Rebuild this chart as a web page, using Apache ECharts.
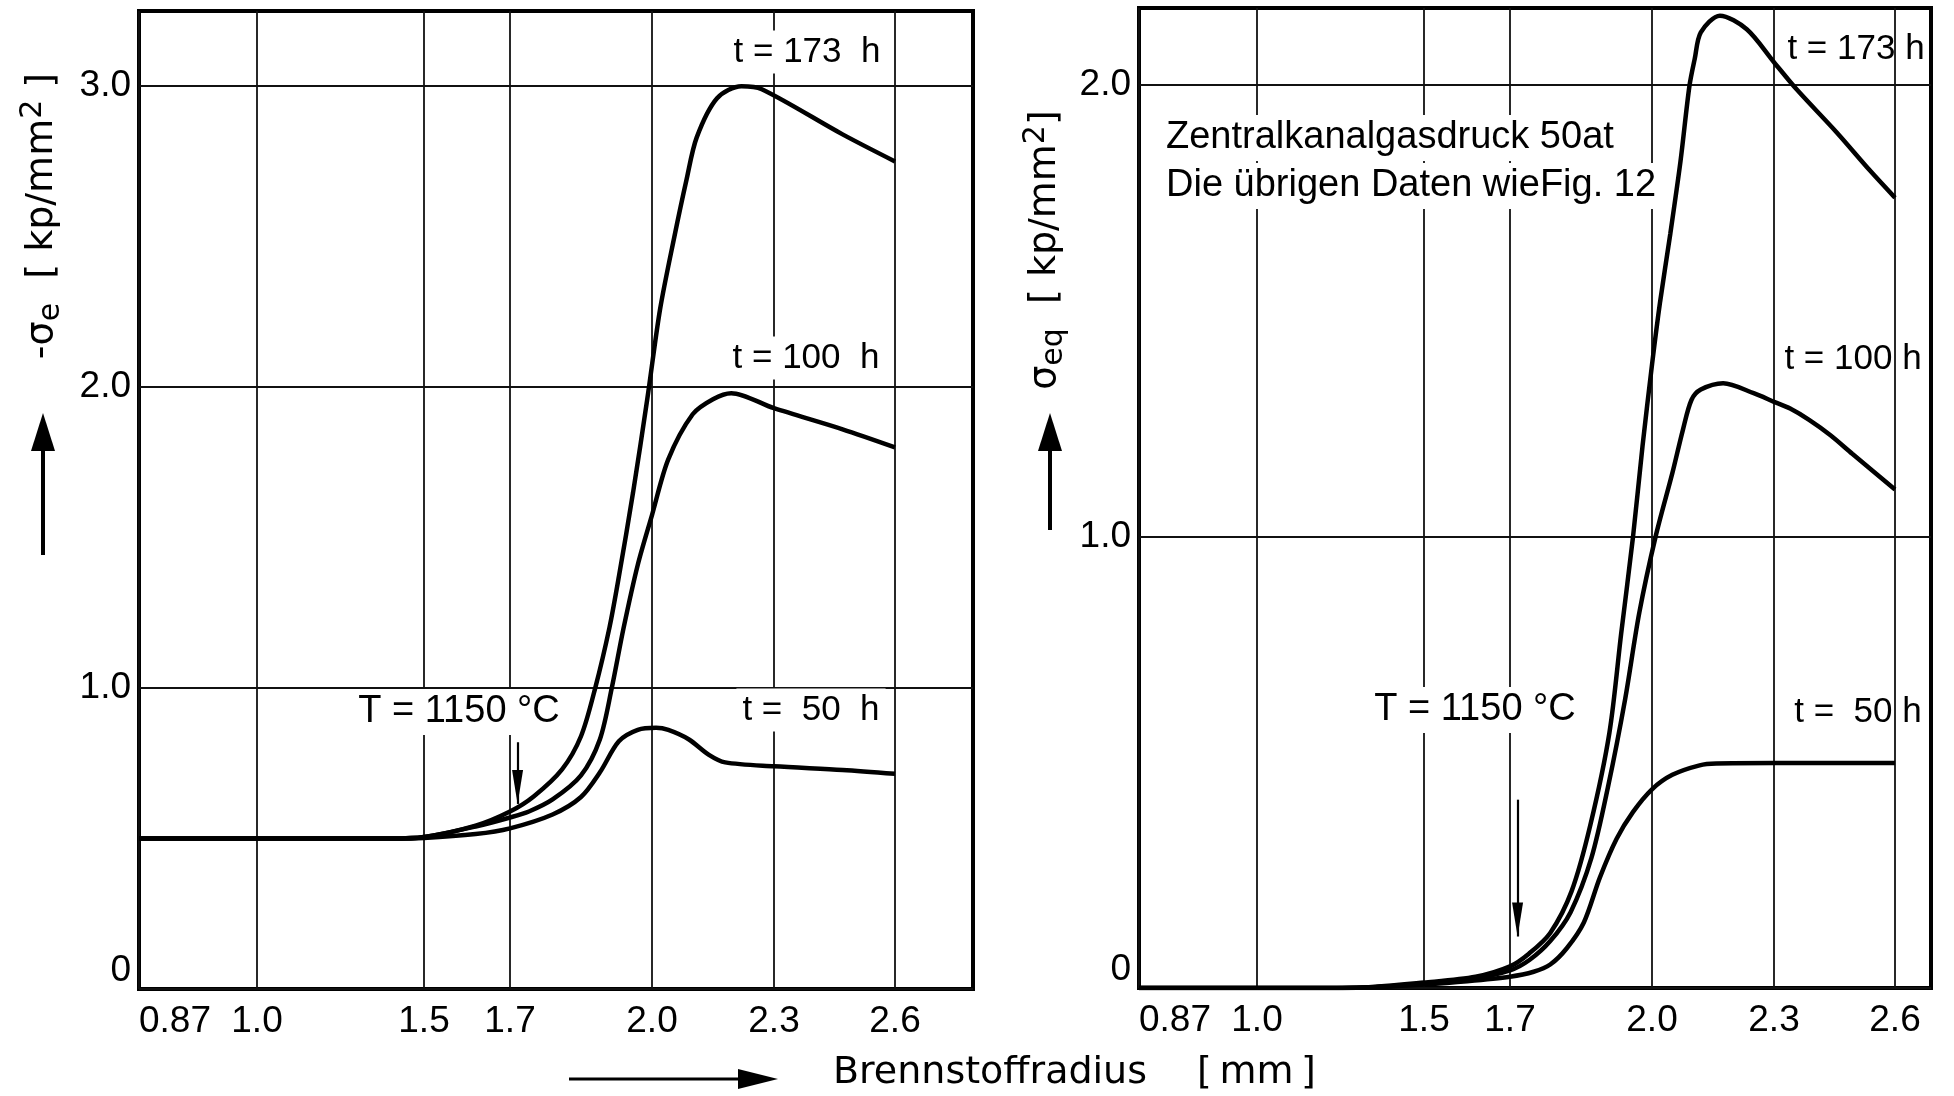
<!DOCTYPE html>
<html>
<head>
    <meta charset="utf-8" />
    <title>Brennstoffradius</title>
    <style>
        html, body { margin: 0; padding: 0; background: #fff; }
        #divChart { width: 1954px; height: 1096px; }
    </style>
</head>
<body>
    <div id="divChart"></div>
    <script src="https://cdn.jsdelivr.net/npm/echarts@6/dist/echarts.min.js"></script>
    <script>
        // x axis: radius ticks (mm); the original axis is drawn non-uniform,
        // so each tick gets its own place along the axis
        var rTicks = [0.87, 1.0, 1.5, 1.7, 2.0, 2.3, 2.6];
        var rTickLabels = ['0.87', '1.0', '1.5', '1.7', '2.0', '2.3', '2.6'];
        var rTickPos = [0, 118, 285, 371, 513, 635, 756];

        var yTicksL = [0, 1, 2, 3];
        var yTicksR = [0, 1, 2];

        // left panel: -sigma_e [kp/mm2]
        var rL173 = [0.87, 1.0, 1.2, 1.4, 1.5, 1.62, 1.7, 1.75, 1.81, 1.85, 1.88, 1.91, 1.93, 1.96, 1.99, 2.02, 2.055, 2.085, 2.11, 2.16, 2.22, 2.27, 2.47, 2.6];
        var sL173 = [0.50, 0.50, 0.50, 0.50, 0.505, 0.543, 0.59, 0.64, 0.73, 0.84, 1.0, 1.2, 1.37, 1.65, 1.96, 2.26, 2.5, 2.69, 2.83, 2.96, 3.00, 2.99, 2.84, 2.75];
        var rL100 = [0.87, 1.0, 1.2, 1.4, 1.5, 1.62, 1.7, 1.74, 1.79, 1.85, 1.89, 1.915, 1.94, 1.97, 2.0, 2.04, 2.1, 2.15, 2.195, 2.3, 2.47, 2.6];
        var sL100 = [0.50, 0.50, 0.50, 0.50, 0.505, 0.54, 0.57, 0.59, 0.63, 0.71, 0.83, 1.0, 1.2, 1.41, 1.575, 1.76, 1.91, 1.96, 1.98, 1.93, 1.86, 1.80];
        var rL50 = [0.87, 1.0, 1.2, 1.4, 1.5, 1.62, 1.7, 1.79, 1.85, 1.89, 1.93, 1.97, 2.01, 2.04, 2.09, 2.14, 2.18, 2.3, 2.47, 2.6];
        var sL50 = [0.50, 0.50, 0.50, 0.50, 0.502, 0.515, 0.534, 0.58, 0.638, 0.72, 0.823, 0.861, 0.868, 0.861, 0.83, 0.778, 0.753, 0.74, 0.728, 0.715];

        // right panel: sigma_eq [kp/mm2]
        var rR173 = [0.87, 1.0, 1.2, 1.32, 1.5, 1.62, 1.7, 1.74, 1.785, 1.83, 1.87, 1.91, 1.935, 1.96, 1.98, 2.0, 2.02, 2.045, 2.07, 2.092, 2.105, 2.12, 2.167, 2.233, 2.30, 2.356, 2.455, 2.538, 2.6];
        var sR173 = [0, 0, 0, 0.001, 0.012, 0.025, 0.048, 0.076, 0.122, 0.214, 0.362, 0.565, 0.786, 1.0, 1.2, 1.38, 1.52, 1.67, 1.83, 1.997, 2.057, 2.116, 2.153, 2.123, 2.05, 1.99, 1.895, 1.81, 1.75];
        var rR100 = [0.87, 1.0, 1.2, 1.32, 1.5, 1.62, 1.7, 1.741, 1.785, 1.828, 1.872, 1.907, 1.943, 1.973, 2.009, 2.05, 2.076, 2.097, 2.12, 2.175, 2.25, 2.30, 2.34, 2.387, 2.44, 2.494, 2.6];
        var sR100 = [0, 0, 0, 0.001, 0.01, 0.022, 0.039, 0.062, 0.104, 0.168, 0.288, 0.445, 0.638, 0.83, 1.0, 1.14, 1.236, 1.302, 1.325, 1.339, 1.317, 1.298, 1.283, 1.258, 1.224, 1.183, 1.104];
        var rR50 = [0.87, 1.0, 1.2, 1.32, 1.5, 1.6, 1.7, 1.75, 1.785, 1.82, 1.856, 1.89, 1.925, 1.96, 2.0, 2.05, 2.117, 2.158, 2.3, 2.6];
        var sR50 = [0, 0, 0, 0.001, 0.008, 0.015, 0.025, 0.036, 0.052, 0.088, 0.145, 0.245, 0.33, 0.39, 0.44, 0.472, 0.493, 0.497, 0.498, 0.498];

        // T = 1150 C marker arrows (radius, from, to)
        var markR = 1.716;
        var markL = [0.82, 0.615];
        var markRt = [0.417, 0.114];

        var NUM = "'Liberation Sans', Arial, sans-serif";
        var WIDE = "'DejaVu Sans', 'Noto Sans', sans-serif";

        function rToPos(r) {
            for (var i = 0; i < rTicks.length - 1; i++) {
                if (r <= rTicks[i + 1] || i === rTicks.length - 2) {
                    var f = (r - rTicks[i]) / (rTicks[i + 1] - rTicks[i]);
                    return rTickPos[i] + f * (rTickPos[i + 1] - rTickPos[i]);
                }
            }
        }
        function pairs(rs, ss) {
            return rs.map(function (r, i) { return [rToPos(r), ss[i]]; });
        }
        function xLabel(v) {
            var i = rTickPos.indexOf(v);
            return i >= 0 ? rTickLabels[i] : '';
        }
        function yLabel(v) {
            return v === 0 ? '0' : v.toFixed(1);
        }

        function xAxisOf(gi, max) {
            return {
                gridIndex: gi, type: 'value', min: 0, max: max,
                axisLine: { show: false },
                axisTick: { show: false, customValues: rTickPos },
                axisLabel: {
                    customValues: rTickPos, formatter: xLabel, margin: 14, alignMinLabel: 'left',
                    color: '#000', fontFamily: NUM, fontSize: 37
                },
                splitLine: { show: true, lineStyle: { color: '#111', width: 1.8 } }
            };
        }
        function yAxisOf(gi, max, ticks) {
            return {
                gridIndex: gi, type: 'value', min: 0, max: max,
                axisLine: { show: false },
                axisTick: { show: false, customValues: ticks },
                axisLabel: {
                    customValues: ticks, formatter: yLabel, margin: 8, verticalAlignMinLabel: 'bottom',
                    color: '#000', fontFamily: NUM, fontSize: 37
                },
                splitLine: { show: true, lineStyle: { color: '#111', width: 1.8 } }
            };
        }
        function curve(gi, rs, ss) {
            return {
                type: 'line', xAxisIndex: gi, yAxisIndex: gi,
                data: pairs(rs, ss), showSymbol: false, smooth: 0.3,
                lineStyle: { color: '#000', width: 4.5 }, z: 3, silent: true
            };
        }
        function marker(s, gi, ys) {
            s.markLine = {
                silent: true, symbol: 'none', animation: false,
                lineStyle: { color: '#000', width: 2.2, type: 'solid' },
                label: { show: false },
                data: [[{ coord: [rToPos(markR), ys[0]] }, { coord: [rToPos(markR), ys[1]] }]]
            };
            s.markPoint = {
                silent: true, animation: false,
                symbol: 'path://M0,0 L10,0 L5,30 Z', symbolSize: [11, 34], symbolOffset: [0, '-50%'],
                itemStyle: { color: '#000' }, label: { show: false },
                data: [{ coord: [rToPos(markR), ys[1]] }]
            };
            return s;
        }

        function txt(x, y, text, opt) {
            opt = opt || {};
            return {
                type: 'text', x: x, y: y, z: 10, rotation: opt.rot || 0,
                style: {
                    text: text, fill: '#000',
                    font: (opt.size || 34) + 'px ' + (opt.font || NUM),
                    align: opt.align || 'center', verticalAlign: 'middle',
                    backgroundColor: opt.bg ? '#fff' : null,
                    padding: opt.bg ? [4, 6] : 0,
                    rich: opt.rich
                }
            };
        }
        function upArrow(x, yTip, yBase) {
            return [
                { type: 'line', z: 10, shape: { x1: x, y1: yBase, x2: x, y2: yTip + 30 }, style: { stroke: '#000', lineWidth: 4 } },
                { type: 'polygon', z: 10, shape: { points: [[x - 12, yTip + 38], [x + 12, yTip + 38], [x, yTip]] }, style: { fill: '#000' } }
            ];
        }

        var nameRich = {
            n: { fontFamily: WIDE, fontSize: 38, color: '#000', verticalAlign: 'middle', lineHeight: 48 },
            s: { fontFamily: WIDE, fontSize: 30, color: '#000', verticalAlign: 'bottom', lineHeight: 34 },
            p: { fontFamily: WIDE, fontSize: 30, color: '#000', verticalAlign: 'top', lineHeight: 34 }
        };

        var myChart = echarts.init(document.getElementById('divChart'), null, { renderer: 'canvas' });

        var option = {
            backgroundColor: '#fff',
            animation: false,
            grid: [
                { left: 139, top: 11, width: 834, height: 978, show: true, borderColor: '#000', borderWidth: 4, backgroundColor: 'transparent' },
                { left: 1139, top: 8, width: 792, height: 980, show: true, borderColor: '#000', borderWidth: 4, backgroundColor: 'transparent' }
            ],
            xAxis: [xAxisOf(0, 834), xAxisOf(1, 792)],
            yAxis: [yAxisOf(0, 3.25, yTicksL), yAxisOf(1, 2.17, yTicksR)],
            series: [
                curve(0, rL173, sL173),
                curve(0, rL100, sL100),
                marker(curve(0, rL50, sL50), 0, markL),
                curve(1, rR173, sR173),
                curve(1, rR100, sR100),
                marker(curve(1, rR50, sR50), 1, markRt)
            ],
            graphic: [
                txt(807, 52, 't = 173  h', { bg: true, size: 35 }),
                txt(806, 358, 't = 100  h', { bg: true, size: 35 }),
                txt(811, 710, 't =  50  h', { bg: true, size: 35 }),
                txt(459, 712, 'T = 1150 °C', { bg: true, size: 38 }),
                txt(1856, 49, 't = 173 h', { size: 35 }),
                txt(1853, 359, 't = 100 h', { size: 35 }),
                txt(1858, 712, 't =  50 h', { size: 35 }),
                txt(1475, 710, 'T = 1150 °C', { bg: true, size: 38 }),
                txt(1160, 138, 'Zentralkanalgasdruck 50at', { align: 'left', size: 38, bg: true }),
                txt(1160, 186, 'Die übrigen Daten wieFig. 12', { align: 'left', size: 38, bg: true }),
                txt(833, 1073, 'Brennstoffradius', { align: 'left', size: 38, font: WIDE }),
                txt(1197, 1073, '[\u2009mm\u2009]', { align: 'left', size: 38, font: WIDE }),
                txt(42, 216, '{n|-σ}{s|e}{n|  [ kp/mm}{p|2}{n| ]}', { rot: Math.PI / 2, rich: nameRich }),
                txt(1045, 250, '{n|σ}{s|eq}{n|  [ kp/mm}{p|2}{n|]}', { rot: Math.PI / 2, rich: nameRich }),
                { type: 'line', z: 10, shape: { x1: 569, y1: 1079, x2: 745, y2: 1079 }, style: { stroke: '#000', lineWidth: 3 } },
                { type: 'polygon', z: 10, shape: { points: [[738, 1069], [738, 1089], [778, 1079]] }, style: { fill: '#000' } }
            ].concat(upArrow(43, 413, 555), upArrow(1050, 413, 530))
        };

        myChart.setOption(option);
    </script>
</body>
</html>
